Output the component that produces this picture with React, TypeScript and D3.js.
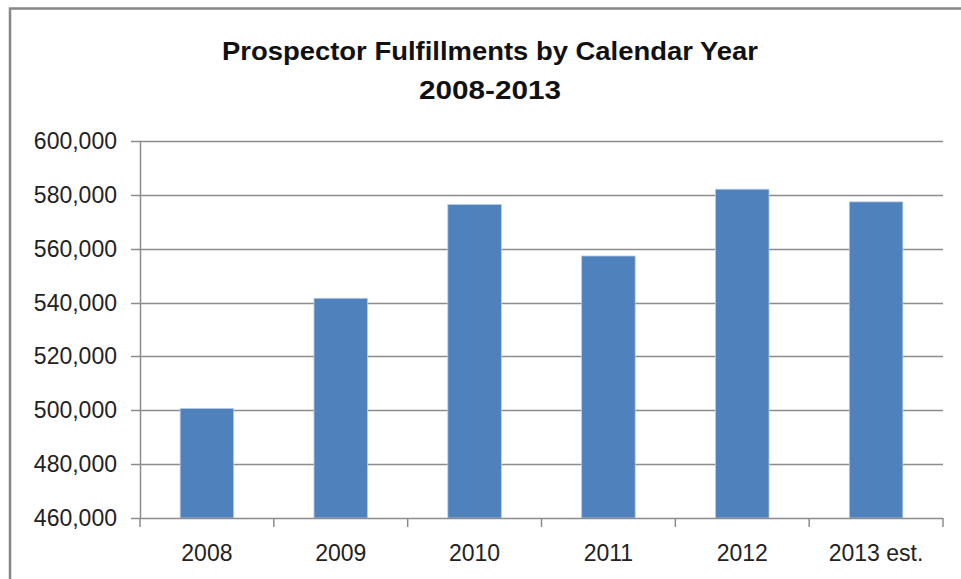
import React from "react";
import * as d3 from "d3";

const categories = ["2008", "2009", "2010", "2011", "2012", "2013 est."];
const fulfillments = [500700, 541600, 576400, 557300, 582100, 577400];
const yTicks = [460000, 480000, 500000, 520000, 540000, 560000, 580000, 600000];
const titleLines = ["Prospector Fulfillments by Calendar Year", "2008-2013"];

export default function App() {
  const W = 961, H = 579;
  const plot = { left: 140, right: 943, top: 141, bottom: 518 };
  const y = d3.scaleLinear().domain([460000, 600000]).range([plot.bottom, plot.top]);
  const x = d3.scaleBand<string>().domain(categories).range([plot.left, plot.right]).paddingInner(0.6).paddingOuter(0.3);
  const step = x.step();
  const fmt = d3.format(",");
  const font = "'Liberation Sans', Arial, sans-serif";
  const grid = "#8c8c8c";

  return (
    <svg width={W} height={H} style={{ position: "absolute", left: 0, top: 0, background: "#fff" }} fontFamily={font}>
      <rect x={0} y={0} width={W} height={H} fill="#fff" />
      <rect x={10} y={8.5} width={W + 20} height={H + 20} fill="none" stroke="#868686" strokeWidth={2.5} />
      {/* title */}
      <text x={490} y={60} textAnchor="middle" fontSize={26} fontWeight="bold" fill="#111" textLength={536} lengthAdjust="spacingAndGlyphs">{titleLines[0]}</text>
      <text x={490} y={99} textAnchor="middle" fontSize={26} fontWeight="bold" fill="#111" textLength={142} lengthAdjust="spacingAndGlyphs">{titleLines[1]}</text>
      {/* gridlines */}
      {yTicks.map((t) => (
        <g key={t}>
          {t !== 460000 && (
            <line x1={plot.left} x2={plot.right} y1={Math.round(y(t)) + 0.5} y2={Math.round(y(t)) + 0.5} stroke={grid} strokeWidth={1.5} />
          )}
          <line x1={131} x2={plot.left} y1={Math.round(y(t)) + 0.5} y2={Math.round(y(t)) + 0.5} stroke={grid} strokeWidth={1.5} />
          <text x={117} y={y(t)} dy="0.35em" textAnchor="end" fontSize={23} fill="#222">{fmt(t)}</text>
        </g>
      ))}
      {/* bars */}
      {categories.map((c, i) => (
        <rect key={c} x={x(c)} y={y(fulfillments[i])} width={x.bandwidth()} height={plot.bottom - y(fulfillments[i])} fill="#4F81BD" stroke="#B9CDE5" strokeWidth={0.8} />
      ))}
      {/* axes */}
      <line x1={plot.left + 0.5} x2={plot.left + 0.5} y1={plot.top} y2={plot.bottom} stroke={grid} strokeWidth={1.5} />
      <line x1={plot.left} x2={plot.right} y1={plot.bottom + 0.5} y2={plot.bottom + 0.5} stroke={grid} strokeWidth={1.5} />
      {d3.range(categories.length + 1).map((i) => (
        <line key={i} x1={plot.left + i * step} x2={plot.left + i * step} y1={plot.bottom} y2={plot.bottom + 9} stroke={grid} strokeWidth={1.5} />
      ))}
      {categories.map((c) => (
        <text key={c} x={(x(c) as number) + x.bandwidth() / 2} y={561} textAnchor="middle" fontSize={23} fill="#222">{c}</text>
      ))}
    </svg>
  );
}
